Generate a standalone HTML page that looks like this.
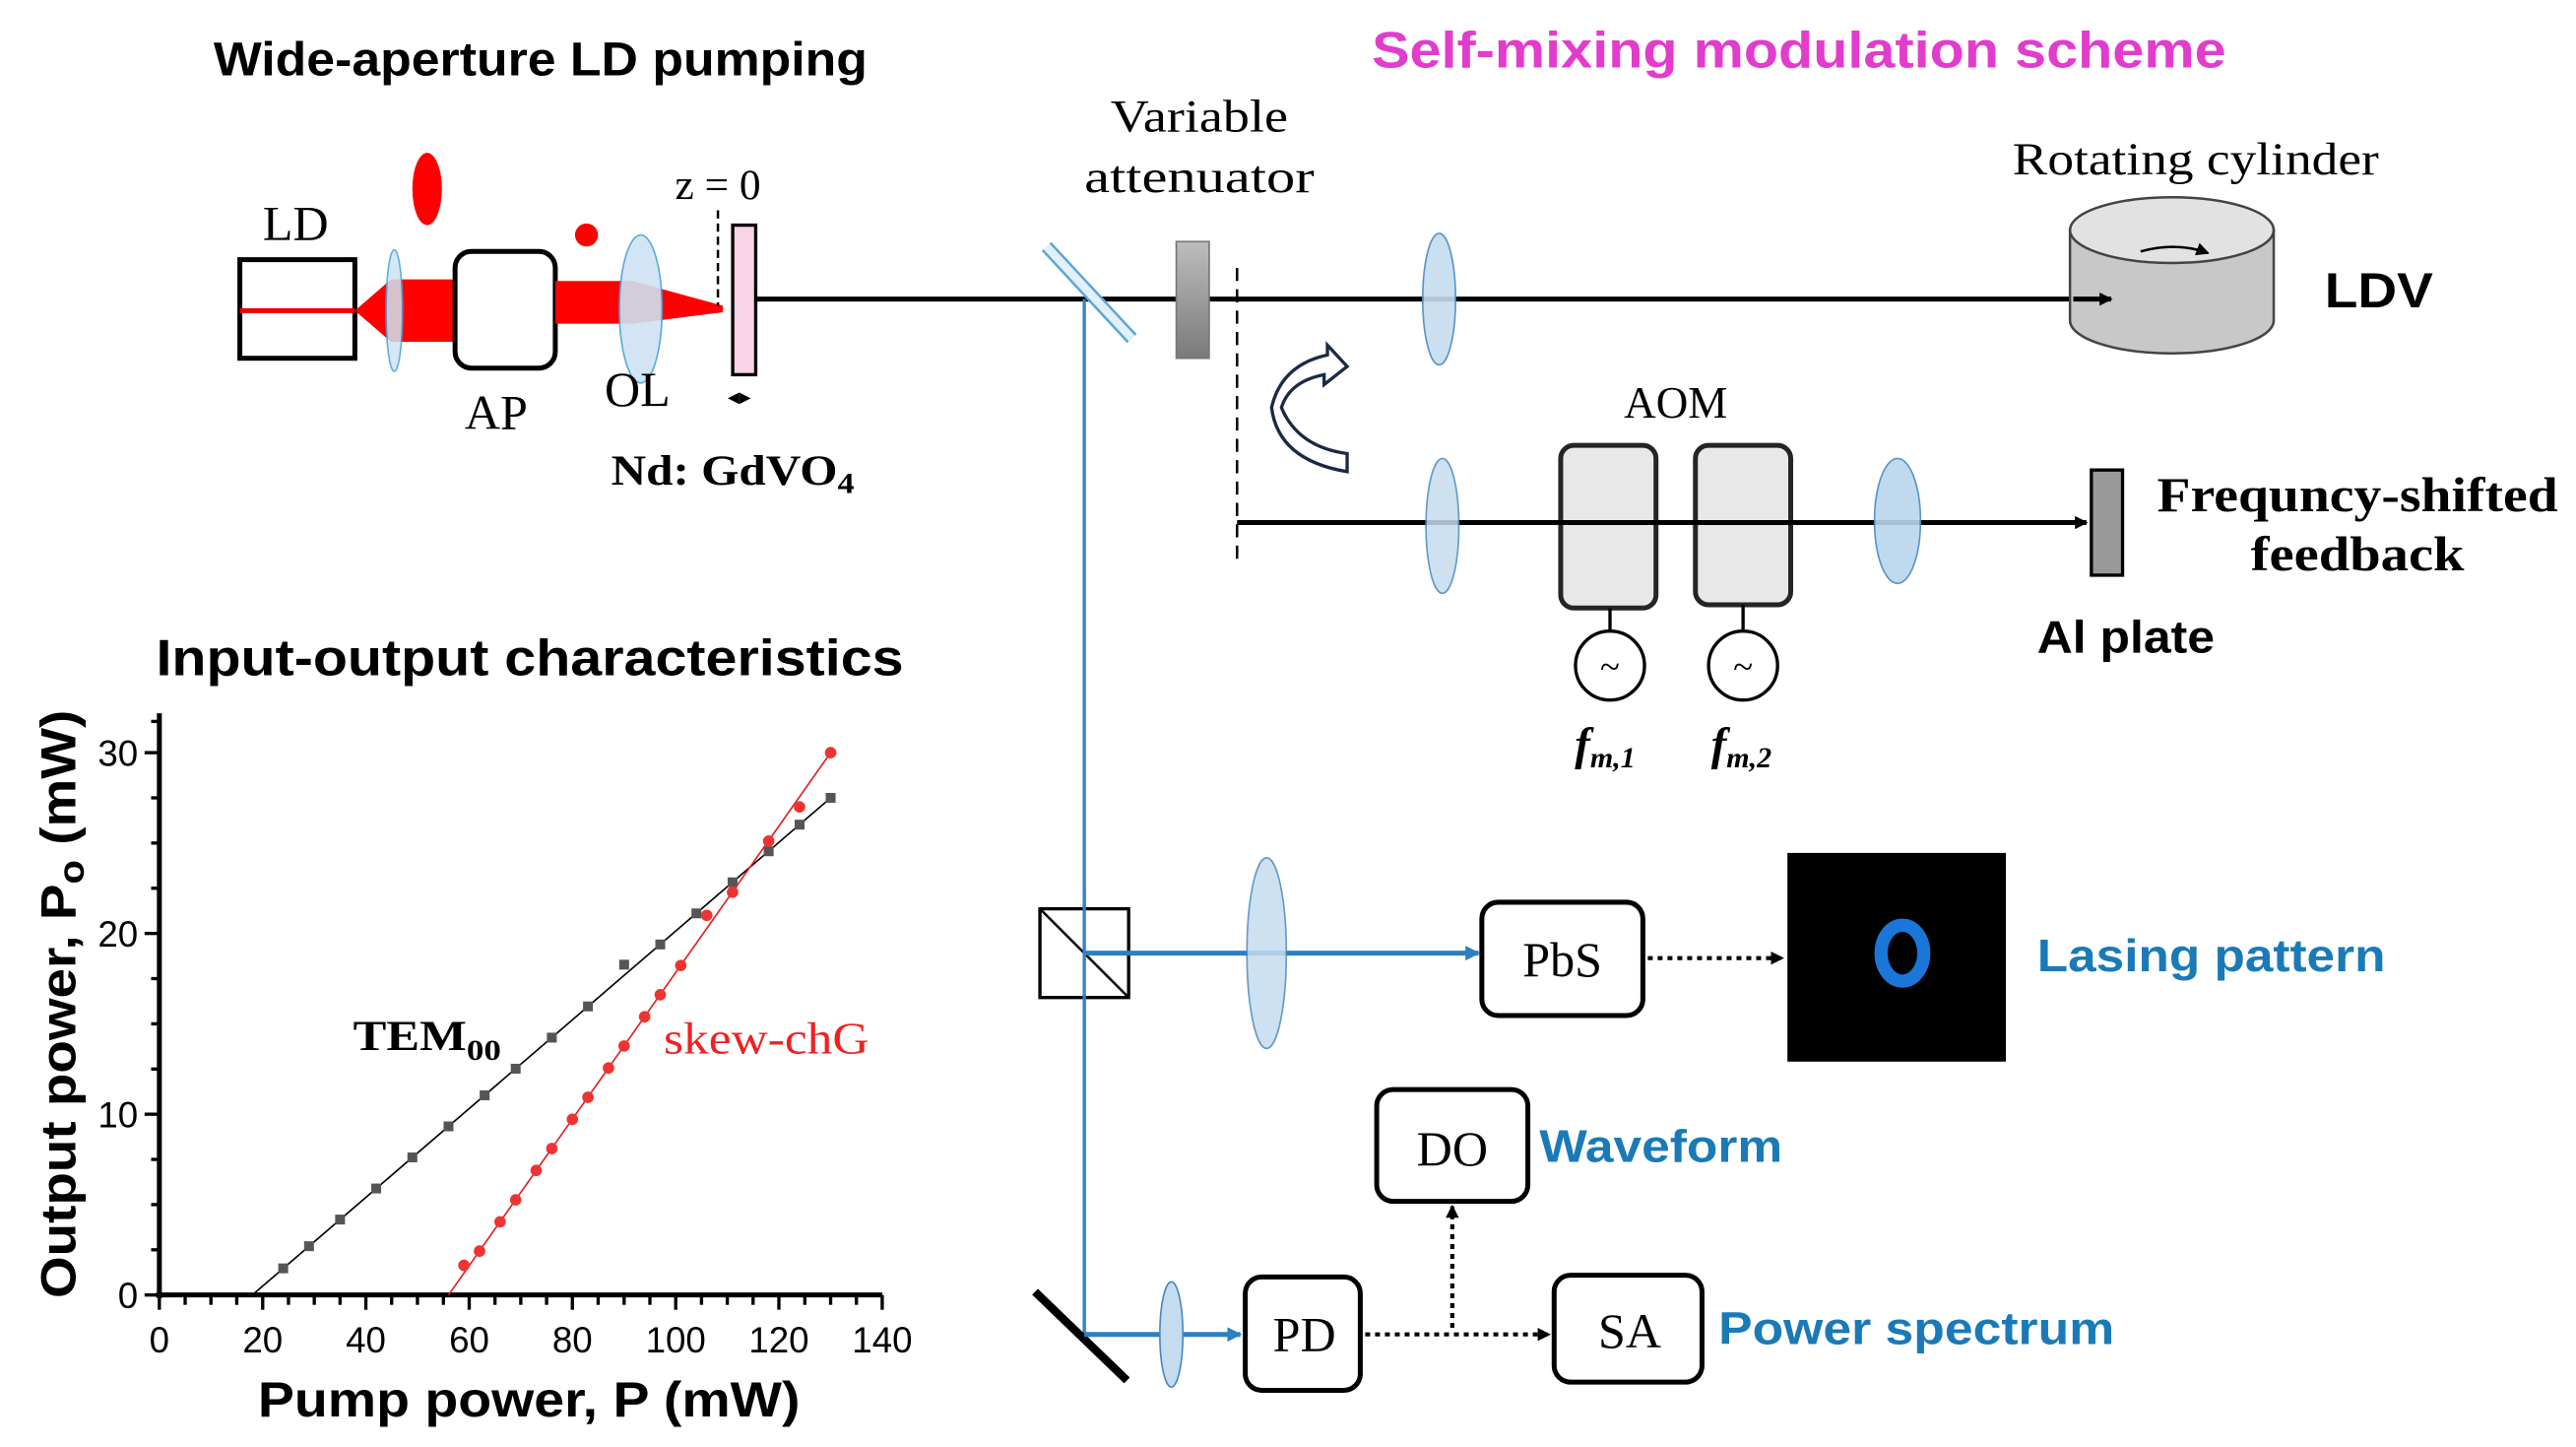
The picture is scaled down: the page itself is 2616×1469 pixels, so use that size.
<!DOCTYPE html>
<html><head><meta charset="utf-8"><style>
html,body{margin:0;padding:0;background:#fff}
svg{display:block}
.sf{font-family:"Liberation Serif",serif}
.ss{font-family:"Liberation Sans",sans-serif;font-weight:bold}
</style></head><body>
<svg width="2616" height="1469" viewBox="0 0 1568 880.5" preserveAspectRatio="none" xmlns="http://www.w3.org/2000/svg">
<defs>
<linearGradient id="att" x1="0" y1="0" x2="0" y2="1"><stop offset="0" stop-color="#bdbdbd"/><stop offset="1" stop-color="#7a7a7a"/></linearGradient>
<marker id="ah" markerWidth="8" markerHeight="8" refX="7" refY="4" orient="auto" markerUnits="userSpaceOnUse"><path d="M0,0 L8,4 L0,8 z" fill="#000"/></marker>
<marker id="ahb" markerWidth="9" markerHeight="9" refX="8" refY="4.5" orient="auto" markerUnits="userSpaceOnUse"><path d="M0,0 L9,4.5 L0,9 z" fill="#2e7fc0"/></marker>
</defs>
<rect width="1568" height="881" fill="#fff"/>

<text x="130" y="46" class="ss" font-size="29" textLength="398" lengthAdjust="spacingAndGlyphs">Wide-aperture LD pumping</text>
<text x="835" y="41" class="ss" font-size="31" fill="#e23ccc" textLength="520" lengthAdjust="spacingAndGlyphs">Self-mixing modulation scheme</text>

<!-- LD pumping -->
<text x="180" y="146" text-anchor="middle" class="sf" font-size="30">LD</text>
<rect x="146" y="158" width="70" height="60" fill="#fff" stroke="#000" stroke-width="3"/>
<line x1="146" y1="189" x2="216" y2="189" stroke="#e00" stroke-width="3"/>
<path d="M216,189 L238,170 L278,170 L278,208 L238,208 z" fill="#f00"/>
<ellipse cx="240" cy="189" rx="5" ry="37" fill="#cfe3f3" stroke="#4aa3d8" stroke-width="1" opacity="0.85"/>
<rect x="277" y="153" width="61" height="71" rx="10" fill="#fff" stroke="#000" stroke-width="3"/>
<path d="M338,171 L385,171 L440,186 L440,190 L385,197 L338,197 z" fill="#f00"/>
<ellipse cx="390" cy="188" rx="13" ry="45" fill="#cfe3f3" stroke="#4aa3d8" stroke-width="1" opacity="0.9"/>
<ellipse cx="260" cy="115" rx="9" ry="22" fill="#f00"/>
<circle cx="357" cy="143" r="7" fill="#f00"/>
<text x="437" y="121" text-anchor="middle" class="sf" font-size="26">z = 0</text>
<line x1="437" y1="128" x2="437" y2="186" stroke="#000" stroke-width="1.5" stroke-dasharray="5,3"/>
<rect x="446" y="137" width="14" height="91" fill="#f9d3e6" stroke="#000" stroke-width="2"/>
<text x="302" y="261" text-anchor="middle" class="sf" font-size="30">AP</text>
<text x="388" y="247" text-anchor="middle" class="sf" font-size="30">OL</text>
<text x="450" y="246" text-anchor="middle" class="sf" font-size="14">◂▸</text>
<text x="372" y="295" class="sf" font-size="26" font-weight="bold" textLength="148" lengthAdjust="spacingAndGlyphs">Nd: GdVO<tspan font-size="18" dy="5">4</tspan></text>

<!-- main beam -->
<line x1="460" y1="182" x2="1285" y2="182" stroke="#000" stroke-width="3" marker-end="url(#ah)"/>
<line x1="660" y1="182" x2="660" y2="812" stroke="#3a80c4" stroke-width="2"/>
<line x1="637" y1="150" x2="689" y2="206" stroke="#5aa6d6" stroke-width="8"/>
<line x1="637" y1="150" x2="689" y2="206" stroke="#e3f0f9" stroke-width="5"/>
<rect x="716" y="147" width="20" height="71" fill="url(#att)" stroke="#777" stroke-width="1"/>
<text x="730" y="80" text-anchor="middle" class="sf" font-size="28" textLength="108" lengthAdjust="spacingAndGlyphs">Variable</text>
<text x="730" y="117" text-anchor="middle" class="sf" font-size="28" textLength="140" lengthAdjust="spacingAndGlyphs">attenuator</text>
<line x1="753" y1="163" x2="753" y2="345" stroke="#000" stroke-width="1.5" stroke-dasharray="8,5"/>
<ellipse cx="876" cy="182" rx="10" ry="40" fill="#c5dcee" stroke="#4a8ac0" stroke-width="1" opacity="0.9"/>

<!-- cylinder -->
<text x="1225" y="106" class="sf" font-size="28" textLength="223" lengthAdjust="spacingAndGlyphs">Rotating cylinder</text>
<path d="M1260,140 L1260,195 A62,20 0 0 0 1384,195 L1384,140 z" fill="#c8c8c8" stroke="#444" stroke-width="1.5"/>
<ellipse cx="1322" cy="140" rx="62" ry="20" fill="#e2e2e2" stroke="#444" stroke-width="1.5"/>
<path d="M1303,153 Q1325,147 1344,154" fill="none" stroke="#000" stroke-width="1.5" marker-end="url(#ah)"/>
<line x1="1262" y1="182" x2="1285" y2="182" stroke="#000" stroke-width="3" marker-end="url(#ah)"/>
<text x="1415" y="187" class="ss" font-size="30" textLength="66" lengthAdjust="spacingAndGlyphs">LDV</text>

<!-- curved arrow -->
<path d="M820,287 L820,276 Q790,272 780,248 Q785,232 806,228 L806,234 L820,223 L808,210 L808,216 Q780,222 774,248 Q778,280 820,287 z" fill="#fff" stroke="#1a2a44" stroke-width="2"/>

<!-- lower branch -->
<line x1="753" y1="318" x2="1270" y2="318" stroke="#000" stroke-width="3" marker-end="url(#ah)"/>
<ellipse cx="878" cy="320" rx="10" ry="41" fill="#c5dcee" stroke="#4a8ac0" stroke-width="1" opacity="0.85"/>
<text x="1020" y="254" text-anchor="middle" class="sf" font-size="27">AOM</text>
<rect x="950" y="271" width="58" height="99" rx="8" fill="#e4e4e4" stroke="#000" stroke-width="3" opacity="0.85"/>
<rect x="1032" y="271" width="58" height="97" rx="8" fill="#e4e4e4" stroke="#000" stroke-width="3" opacity="0.85"/>
<line x1="950" y1="318" x2="1090" y2="318" stroke="#000" stroke-width="3"/>
<ellipse cx="1155" cy="317" rx="14" ry="38" fill="#b9d6ee" stroke="#4a8ac0" stroke-width="1" opacity="0.9"/>
<rect x="1273" y="286" width="19" height="64" fill="#999" stroke="#000" stroke-width="2"/>
<text x="1313" y="311" class="sf" font-size="30" font-weight="bold" textLength="244" lengthAdjust="spacingAndGlyphs">Frequncy-shifted</text>
<text x="1370" y="347" class="sf" font-size="30" font-weight="bold" textLength="130" lengthAdjust="spacingAndGlyphs">feedback</text>
<text x="1240" y="397" class="ss" font-size="28" textLength="108" lengthAdjust="spacingAndGlyphs">Al plate</text>
<line x1="980" y1="370" x2="980" y2="384" stroke="#000" stroke-width="2"/>
<line x1="1061" y1="368" x2="1061" y2="384" stroke="#000" stroke-width="2"/>
<circle cx="980" cy="405" r="21" fill="#fff" stroke="#000" stroke-width="2"/>
<circle cx="1061" cy="405" r="21" fill="#fff" stroke="#000" stroke-width="2"/>
<text x="980" y="413" text-anchor="middle" class="sf" font-size="22">~</text>
<text x="1061" y="413" text-anchor="middle" class="sf" font-size="22">~</text>
<text x="977" y="462" text-anchor="middle" class="sf" font-size="28" font-style="italic" font-weight="bold">f<tspan font-size="18" dy="5">m,1</tspan></text>
<text x="1060" y="462" text-anchor="middle" class="sf" font-size="28" font-style="italic" font-weight="bold">f<tspan font-size="18" dy="5">m,2</tspan></text>

<!-- detection -->
<rect x="633" y="553" width="54" height="54" fill="#fff" stroke="#000" stroke-width="2"/>
<line x1="633" y1="553" x2="687" y2="607" stroke="#000" stroke-width="1.5"/>
<line x1="660" y1="540" x2="660" y2="812" stroke="#3a80c4" stroke-width="2"/>
<line x1="660" y1="580" x2="900" y2="580" stroke="#2e7fc0" stroke-width="3" marker-end="url(#ahb)"/>
<ellipse cx="771" cy="580" rx="12" ry="58" fill="#c5dcee" stroke="#4a8ac0" stroke-width="1" opacity="0.85"/>
<rect x="902" y="549" width="98" height="69" rx="10" fill="#fff" stroke="#000" stroke-width="3"/>
<text x="951" y="594" text-anchor="middle" class="sf" font-size="30">PbS</text>
<line x1="1003" y1="583" x2="1085" y2="583" stroke="#000" stroke-width="2.5" stroke-dasharray="3,3" marker-end="url(#ah)"/>
<rect x="1088" y="519" width="133" height="127" fill="#000"/>
<ellipse cx="1158" cy="580" rx="13" ry="17" fill="none" stroke="#1f8cff" stroke-width="8" opacity="0.85"/>
<text x="1240" y="591" class="ss" font-size="28" fill="#1a7ab8" textLength="212" lengthAdjust="spacingAndGlyphs">Lasing pattern</text>

<rect x="838" y="663" width="92" height="68" rx="10" fill="#fff" stroke="#000" stroke-width="3"/>
<text x="884" y="709" text-anchor="middle" class="sf" font-size="30">DO</text>
<text x="937" y="707" class="ss" font-size="28" fill="#1a7ab8" textLength="148" lengthAdjust="spacingAndGlyphs">Waveform</text>

<line x1="630" y1="786" x2="686" y2="840" stroke="#000" stroke-width="5"/>
<line x1="660" y1="812" x2="755" y2="812" stroke="#2e7fc0" stroke-width="3" marker-end="url(#ahb)"/>
<ellipse cx="713" cy="812" rx="7" ry="32" fill="#c5dcee" stroke="#4a8ac0" stroke-width="1"/>
<rect x="758" y="777" width="70" height="69" rx="10" fill="#fff" stroke="#000" stroke-width="3"/>
<text x="794" y="822" text-anchor="middle" class="sf" font-size="30">PD</text>
<line x1="831" y1="812" x2="943" y2="812" stroke="#000" stroke-width="2.5" stroke-dasharray="3,3" marker-end="url(#ah)"/>
<line x1="884" y1="808" x2="884" y2="734" stroke="#000" stroke-width="2.5" stroke-dasharray="3,3" marker-end="url(#ah)"/>
<rect x="946" y="776" width="90" height="65" rx="10" fill="#fff" stroke="#000" stroke-width="3"/>
<text x="992" y="820" text-anchor="middle" class="sf" font-size="30">SA</text>
<text x="1046" y="818" class="ss" font-size="28" fill="#1a7ab8" textLength="241" lengthAdjust="spacingAndGlyphs">Power spectrum</text>

<!-- plot -->
<text x="95" y="411" class="ss" font-size="31" textLength="455" lengthAdjust="spacingAndGlyphs">Input-output characteristics</text>
<g stroke="#000" stroke-width="3">
<line x1="97" y1="434" x2="97" y2="790"/>
<line x1="95" y1="788" x2="537" y2="788"/>
</g>
<g stroke="#000" stroke-width="2">
<line x1="97" y1="788" x2="97" y2="797"/><line x1="159.9" y1="788" x2="159.9" y2="797"/><line x1="222.7" y1="788" x2="222.7" y2="797"/><line x1="285.6" y1="788" x2="285.6" y2="797"/><line x1="348.4" y1="788" x2="348.4" y2="797"/><line x1="411.3" y1="788" x2="411.3" y2="797"/><line x1="474.1" y1="788" x2="474.1" y2="797"/><line x1="537" y1="788" x2="537" y2="797"/>
<line x1="112.7" y1="788" x2="112.7" y2="794"/><line x1="128.4" y1="788" x2="128.4" y2="794"/><line x1="144.1" y1="788" x2="144.1" y2="794"/>
<line x1="175.6" y1="788" x2="175.6" y2="794"/><line x1="191.3" y1="788" x2="191.3" y2="794"/><line x1="207" y1="788" x2="207" y2="794"/>
<line x1="238.4" y1="788" x2="238.4" y2="794"/><line x1="254.1" y1="788" x2="254.1" y2="794"/><line x1="269.9" y1="788" x2="269.9" y2="794"/>
<line x1="301.3" y1="788" x2="301.3" y2="794"/><line x1="317" y1="788" x2="317" y2="794"/><line x1="332.7" y1="788" x2="332.7" y2="794"/>
<line x1="364.1" y1="788" x2="364.1" y2="794"/><line x1="379.9" y1="788" x2="379.9" y2="794"/><line x1="395.6" y1="788" x2="395.6" y2="794"/>
<line x1="427" y1="788" x2="427" y2="794"/><line x1="442.7" y1="788" x2="442.7" y2="794"/><line x1="458.4" y1="788" x2="458.4" y2="794"/>
<line x1="489.9" y1="788" x2="489.9" y2="794"/><line x1="505.6" y1="788" x2="505.6" y2="794"/><line x1="521.3" y1="788" x2="521.3" y2="794"/>
<line x1="88" y1="788" x2="97" y2="788"/><line x1="88" y1="678" x2="97" y2="678"/><line x1="88" y1="568" x2="97" y2="568"/><line x1="88" y1="458" x2="97" y2="458"/>
<line x1="92" y1="760.5" x2="97" y2="760.5"/><line x1="92" y1="733" x2="97" y2="733"/><line x1="92" y1="705.5" x2="97" y2="705.5"/>
<line x1="92" y1="650.5" x2="97" y2="650.5"/><line x1="92" y1="623" x2="97" y2="623"/><line x1="92" y1="595.5" x2="97" y2="595.5"/>
<line x1="92" y1="540.5" x2="97" y2="540.5"/><line x1="92" y1="513" x2="97" y2="513"/><line x1="92" y1="485.5" x2="97" y2="485.5"/>
<line x1="92" y1="439" x2="97" y2="439"/>
</g>
<g class="ss" font-size="22" text-anchor="middle" style="font-weight:normal">
<text x="97" y="823">0</text><text x="159.9" y="823">20</text><text x="222.7" y="823">40</text><text x="285.6" y="823">60</text><text x="348.4" y="823">80</text><text x="411.3" y="823">100</text><text x="474.1" y="823">120</text><text x="537" y="823">140</text>
</g>
<g class="ss" font-size="22" text-anchor="end" style="font-weight:normal">
<text x="84" y="796">0</text><text x="84" y="686">10</text><text x="84" y="576">20</text><text x="84" y="466">30</text>
</g>
<text x="157" y="862" class="ss" font-size="30" textLength="330" lengthAdjust="spacingAndGlyphs">Pump power, P (mW)</text>
<text transform="translate(46,790) rotate(-90)" class="ss" font-size="30" textLength="358" lengthAdjust="spacingAndGlyphs">Output power, P<tspan font-size="22" dy="5">o</tspan><tspan dy="-5"> (mW)</tspan></text>

<line x1="153.6" y1="788" x2="505.6" y2="485.5" stroke="#000" stroke-width="1"/>
<g fill="#555">
<rect x="169.4" y="768.8" width="6" height="6"/><rect x="185.1" y="755.3" width="6" height="6"/><rect x="204" y="739.1" width="6" height="6"/><rect x="226" y="720.2" width="6" height="6"/><rect x="248" y="701.3" width="6" height="6"/><rect x="270" y="682.4" width="6" height="6"/><rect x="292" y="663.5" width="6" height="6"/><rect x="310.9" y="647.3" width="6" height="6"/><rect x="332.9" y="628.4" width="6" height="6"/><rect x="354.9" y="609.4" width="6" height="6"/><rect x="376.9" y="584" width="6" height="6"/><rect x="398.9" y="571.7" width="6" height="6"/><rect x="420.9" y="552.8" width="6" height="6"/><rect x="442.9" y="533.9" width="6" height="6"/><rect x="464.9" y="515" width="6" height="6"/><rect x="483.7" y="498.8" width="6" height="6"/><rect x="502.6" y="482.5" width="6" height="6"/>
</g>
<line x1="273" y1="788" x2="505.6" y2="458" stroke="#d22" stroke-width="1"/>
<g fill="#ee3333">
<circle cx="282.4" cy="770" r="3.5"/><circle cx="291.9" cy="761.3" r="3.5"/><circle cx="304.4" cy="743.5" r="3.5"/><circle cx="313.9" cy="730.1" r="3.5"/><circle cx="326.4" cy="712.2" r="3.5"/><circle cx="335.9" cy="698.9" r="3.5"/><circle cx="348.4" cy="681.1" r="3.5"/><circle cx="357.9" cy="667.7" r="3.5"/><circle cx="370.4" cy="649.9" r="3.5"/><circle cx="379.9" cy="636.5" r="3.5"/><circle cx="392.4" cy="618.7" r="3.5"/><circle cx="401.9" cy="605.3" r="3.5"/><circle cx="414.4" cy="587.5" r="3.5"/><circle cx="430.2" cy="557" r="3.5"/><circle cx="445.9" cy="542.9" r="3.5"/><circle cx="467.9" cy="511.8" r="3.5"/><circle cx="486.7" cy="491" r="3.5"/><circle cx="505.6" cy="458" r="3.5"/>
</g>
<text x="215" y="639" class="sf" font-size="26" font-weight="bold" textLength="90" lengthAdjust="spacingAndGlyphs">TEM<tspan font-size="18" dy="6">00</tspan></text>
<text x="404" y="641" class="sf" font-size="27" fill="#e22" textLength="125" lengthAdjust="spacingAndGlyphs">skew-chG</text>
</svg>
</body></html>
